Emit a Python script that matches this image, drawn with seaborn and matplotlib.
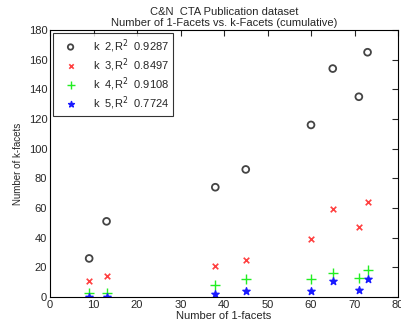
import matplotlib
matplotlib.use("Agg")
import matplotlib.pyplot as plt
import seaborn as sns
import pandas as pd

x_vals = [9, 13, 38, 45, 60, 65, 71, 73]
k2 = [26, 51, 74, 86, 116, 154, 135, 165]
k3 = [11, 14, 21, 25, 39, 59, 47, 64]
k4 = [3, 3, 8, 12, 12, 16, 13, 18]
k5 = [0, 0, 2, 4, 4, 11, 5, 12]
labels = ["k  2,R$^2$  0.9287", "k  3,R$^2$  0.8497", "k  4,R$^2$  0.9108", "k  5,R$^2$  0.7724"]

sns.set_style("white")
plt.rcParams['font.family'] = ['Liberation Sans', 'DejaVu Sans']

fig = plt.figure(figsize=(4.01, 3.34), dpi=100)
ax = fig.add_axes([50/401, 1 - 297/334, 348/401, 267/334])

styles = [
    dict(marker='o', color='#444444', s=24, lw=1.3),
    dict(marker='x', color='#ff4040', s=16, lw=1.2),
    dict(marker='+', color='#22ee22', s=45, lw=1.0),
    dict(marker='*', color='#1a1aff', s=30, lw=1.0),
]
for ys, lab, st in zip([k2, k3, k4, k5], labels, styles):
    df = pd.DataFrame({"x": x_vals, "y": ys})
    if st['marker'] == 'o':
        sns.scatterplot(data=df, x="x", y="y", ax=ax, marker='o', facecolor='none',
                        edgecolor=st['color'], s=st['s'], linewidth=st['lw'], label=lab)
    else:
        sns.scatterplot(data=df, x="x", y="y", ax=ax, marker=st['marker'], color=st['color'],
                        edgecolor=st['color'], s=st['s'], linewidth=st['lw'], label=lab)

ax.set_xlim(0, 80)
ax.set_ylim(0, 180)
ax.set_xticks(range(0, 81, 10))
ax.set_yticks(range(0, 181, 20))
ax.tick_params(direction='in', top=True, right=True, length=4, width=0.8, labelsize=8, pad=2)
for sp in ax.spines.values():
    sp.set_visible(True)
    sp.set_color('black')
    sp.set_linewidth(0.8)
ax.set_xlabel("Number of 1-facets", fontsize=8, labelpad=1)
ax.set_ylabel("Number of k-facets", fontsize=7, labelpad=4)
ax.set_title("C&N  CTA Publication dataset\nNumber of 1-Facets vs. k-Facets (cumulative)", fontsize=8, pad=3, linespacing=1.1)
leg = ax.legend(loc='upper left', fontsize=8, frameon=True, fancybox=False, edgecolor='black',
                borderaxespad=0.3, handletextpad=0.8, labelspacing=0.12, borderpad=0.35,
                markerscale=0.8, handlelength=2.4)
leg.get_frame().set_linewidth(0.8)
fig.savefig("out.png", dpi=100)
